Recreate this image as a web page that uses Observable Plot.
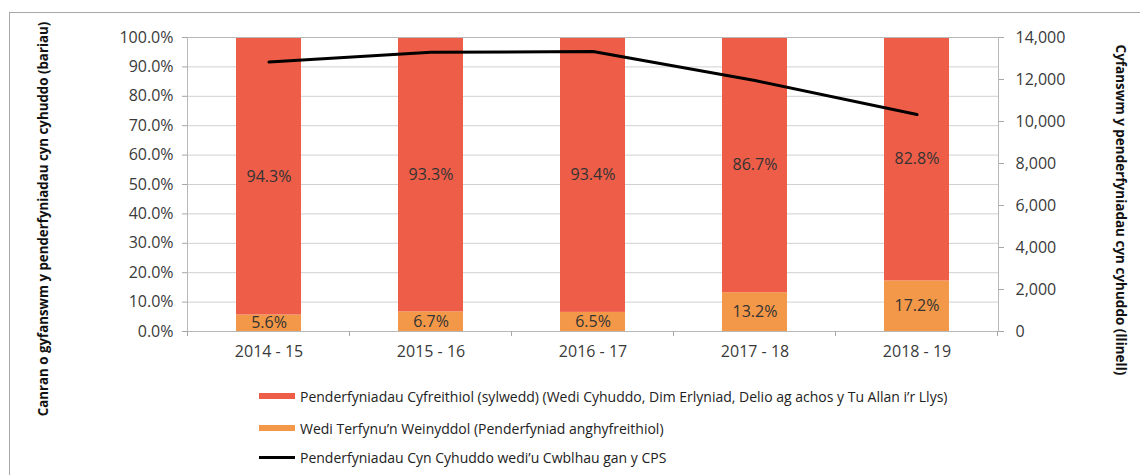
<!DOCTYPE html>
<html><head><meta charset="utf-8">
<script src="https://cdn.jsdelivr.net/npm/d3@7"></script>
<script src="https://cdn.jsdelivr.net/npm/@observablehq/plot@0.6"></script>
<style>
body{margin:0;background:#fff;font-family:"Open Sans",sans-serif}
#wrap{position:relative;width:1140px;height:475px;overflow:hidden;background:#fff}
#border{position:absolute;left:9px;top:12px;width:1200px;height:600px;border:1px solid #a8a8a8}
#chart{position:absolute;left:0;top:0}
.ytitle{position:absolute;font-weight:bold;font-size:13.3px;white-space:nowrap;color:#111;transform:translate(-50%,-50%) rotate(-90deg)}
.ytitle.r{transform:translate(-50%,-50%) rotate(90deg);font-size:13.5px}
.leg{position:absolute;left:259px;font-size:14px;color:#222;white-space:nowrap;display:flex;align-items:center;gap:5px}
.sw{width:36px;height:6px;display:inline-block}
.ln{width:36px;height:3px;display:inline-block;background:#000}
</style></head>
<body>
<div id="wrap">
<div id="border"></div>
<div id="chart"></div>
<div class="ytitle" style="left:43px;top:219px">Canran o gyfanswm y penderfyniadau cyn cyhuddo (bariau)</div>
<div class="ytitle r" style="left:1121px;top:210px">Cyfanswm y penderfyniadau cyn cyhuddo (llinell)</div>
<div id="legend"></div>
</div>
<script>
const years = ["2014 - 15","2015 - 16","2016 - 17","2017 - 18","2018 - 19"];
const substantive = [94.3, 93.3, 93.4, 86.7, 82.8];
const administrative = [5.6, 6.7, 6.5, 13.2, 17.2];
const totalDecisions = [12830, 13300, 13330, 11950, 10330];
const seriesNames = [
  "Penderfyniadau Cyfreithiol (sylwedd) (Wedi Cyhuddo, Dim Erlyniad, Delio ag achos y Tu Allan i\u2019r Llys)",
  "Wedi Terfynu\u2019n Weinyddol (Penderfyniad anghyfreithiol)",
  "Penderfyniadau Cyn Cyhuddo wedi\u2019u Cwblhau gan y CPS"
];
const pctTicks = d3.range(0, 101, 10);
const countTicks = d3.range(0, 14001, 2000);
const countMax = 14000;

const RED = "#ee5d48", ORANGE = "#f39848";

const stacked = [];
years.forEach((y, i) => {
  stacked.push({year: y, series: "admin", value: administrative[i]});
  stacked.push({year: y, series: "subst", value: substantive[i]});
});
const labels = years.flatMap((y, i) => [
  {year: y, v: administrative[i], pos: administrative[i] / 2},
  {year: y, v: substantive[i], pos: administrative[i] + substantive[i] / 2}
]);
const line = years.map((y, i) => ({year: y, v: totalDecisions[i] / countMax * 100}));

const bandTicks = (index, scales, values, dims) => {
  const x = scales.x;
  const g = d3.create("svg:g");
  const bw = x.bandwidth();
  const step = x.step ? x.step() : (dims.width - dims.marginLeft - dims.marginRight) / years.length;
  const y0 = dims.height - dims.marginBottom;
  const xs = years.map(d => x(d) + bw / 2 - step / 2);
  xs.push(x(years[years.length - 1]) + bw / 2 + step / 2);
  xs.forEach(px => g.append("line").attr("x1", px).attr("x2", px).attr("y1", y0).attr("y2", y0 + 5).attr("stroke", "#a6a6a6"));
  return g.node();
};

const plot = Plot.plot({
  width: 1140,
  height: 375,
  marginLeft: 187,
  marginRight: 142,
  marginTop: 37,
  marginBottom: 44,
  style: {fontFamily: "'Open Sans', sans-serif", fontSize: "15px", color: "#404040", background: "transparent"},
  x: {domain: years, paddingInner: 0.6, paddingOuter: 0.3, label: null},
  y: {domain: [0, 100], label: null},
  color: {domain: ["admin", "subst"], range: [ORANGE, RED]},
  marks: [
    Plot.gridY(pctTicks, {stroke: "#d0d0d0", strokeOpacity: 1}),
    Plot.barY(stacked, {x: "year", y: "value", fill: "series", order: null}),
    Plot.frame({stroke: "#b8b8b8"}),
    Plot.axisY(pctTicks, {anchor: "left", tickSize: 5, tickPadding: 9, stroke: "#a6a6a6", tickFormat: d => d.toFixed(1) + "%", fill: "#3a3a3a", fontSize: 16, label: null}),
    Plot.axisY(countTicks.map(v => v / countMax * 100), {anchor: "right", tickSize: 5, tickPadding: 12, stroke: "#a6a6a6", tickFormat: d => d3.format(",")(Math.round(d * countMax / 100)), fill: "#3a3a3a", fontSize: 16, label: null}),
    Plot.axisX({tickSize: 0, tickPadding: 14, fill: "#3a3a3a", fontSize: 16, label: null}),
    bandTicks,
    Plot.text(labels, {x: "year", y: "pos", text: d => d.v.toFixed(1) + "%", fill: "#333", fontSize: 16}),
    Plot.lineY(line, {x: "year", y: "v", stroke: "#000", strokeWidth: 3})
  ]
});
document.getElementById("chart").appendChild(plot);

const legend = document.getElementById("legend");
const rows = [[seriesNames[0], "sw", RED, 396], [seriesNames[1], "sw", ORANGE, 428], [seriesNames[2], "ln", "#000", 457]];
rows.forEach(([name, cls, col, cy]) => {
  const d = document.createElement("div");
  d.className = "leg";
  d.style.top = (cy - 10) + "px";
  d.style.height = "20px";
  const s = document.createElement("span");
  s.className = cls; s.style.background = col;
  const t = document.createElement("span");
  t.textContent = name;
  d.appendChild(s); d.appendChild(t);
  legend.appendChild(d);
});
</script>
</body></html>
